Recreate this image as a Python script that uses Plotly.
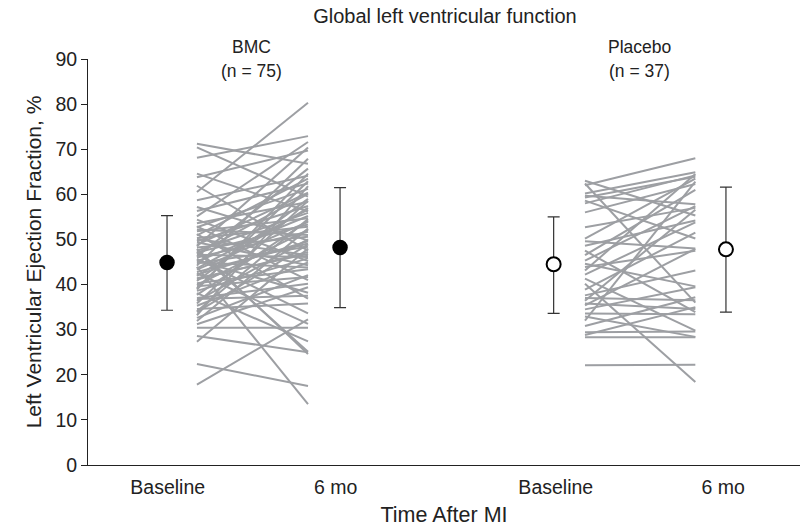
import plotly.graph_objects as go

# ---------------- data ----------------
tick_labels = ["Baseline", "6 mo", "Baseline", "6 mo"]
tick_pos = [1.12, 3.48, 6.57, 8.92]

# x positions (axis units)
bmc_x = [1.53, 3.09]
pla_x = [6.98, 8.53]
mean_x_bmc = [1.11, 3.54]
mean_x_pla = [6.54, 8.96]

bmc_baseline = [71.2, 70.4, 68.1, 64.6, 63.8, 61.9, 60.5, 58.7, 57.2, 56.3, 55.1, 54.4,
                53.6, 52.9, 52.7, 51.8, 51.2, 50.9, 50.3, 49.6, 49.4, 48.8, 48.2, 47.9,
                47.5, 47.1, 46.6, 46.2, 46.0, 45.4, 45.1, 44.7, 44.2, 43.9, 43.3, 42.8,
                42.5, 41.9, 41.4, 40.8, 40.3, 39.9, 39.2, 38.6, 38.1, 37.7, 37.0, 36.4,
                35.8, 35.3, 34.6, 33.9, 33.2, 32.6, 31.9, 31.2, 48.5, 45.7, 43.6, 41.1,
                38.9, 36.8, 34.1, 44.9, 46.8, 50.1, 52.2, 47.3, 42.2, 39.6, 30.4, 28.6,
                27.3, 22.4, 17.8]
bmc_6mo = [66.8, 59.5, 72.9, 56.2, 69.7, 47.5, 80.3, 64.1, 49.8, 62.4, 71.6, 45.2,
           58.3, 41.0, 61.2, 54.7, 36.9, 63.5, 52.8, 57.4, 44.3, 60.4, 50.6, 24.6,
           55.9, 53.3, 46.1, 65.7, 51.7, 38.2, 55.2, 48.4, 67.9, 13.5, 53.9, 49.1,
           31.3, 57.0, 46.8, 59.0, 43.4, 52.1, 62.9, 45.8, 27.4, 54.1, 40.2, 50.0,
           58.6, 44.9, 35.8, 48.9, 61.8, 42.1, 52.4, 39.4, 70.4, 33.6, 56.6, 47.2,
           64.6, 37.5, 54.5, 43.8, 60.1, 46.5, 51.0, 25.1, 49.6, 41.7, 30.4, 25.0,
           48.0, 17.5, 32.3]

pla_baseline = [63.0, 62.4, 60.2, 59.7, 59.3, 58.6, 58.0, 62.0, 56.0, 52.7,
                50.2, 49.6, 48.6, 47.5, 45.3, 44.6, 43.9, 43.1, 42.2, 41.3,
                40.2, 38.9, 37.6, 37.0, 36.4, 35.8, 35.4, 34.5, 33.6, 32.9,
                32.0, 30.8, 29.4, 28.8, 28.3, 22.1, 46.5]
pla_6mo = [55.3, 36.0, 64.9, 57.8, 63.9, 50.2, 64.2, 68.0, 62.3, 57.0,
           63.5, 48.0, 54.2, 33.9, 57.4, 39.6, 47.5, 64.5, 53.8, 29.8,
           18.4, 51.5, 43.1, 36.5, 56.6, 34.6, 47.9, 39.4, 33.4, 28.4,
           62.8, 37.2, 29.6, 35.0, 28.3, 22.2, 61.0]

bmc_mean = [44.9, 48.2]
bmc_err_plus = [10.4, 13.3]
bmc_err_minus = [10.6, 13.3]
pla_mean = [44.5, 47.8]
pla_err_plus = [10.5, 13.8]
pla_err_minus = [10.9, 13.9]

group_labels = ["BMC", "Placebo"]
group_n = ["(n = 75)", "(n = 37)"]
group_label_x = [2.30, 7.75]

# ---------------- figure ----------------
line_color = "rgb(157,159,163)"
ink = "#222222"
font_family = "Liberation Sans, Arial, sans-serif"


def spaghetti(xs, a, b):
    X, Y = [], []
    for v0, v1 in zip(a, b):
        X += [xs[0], xs[1], None]
        Y += [v0, v1, None]
    return X, Y


fig = go.Figure()
for xs, a, b in [(bmc_x, bmc_baseline, bmc_6mo), (pla_x, pla_baseline, pla_6mo)]:
    X, Y = spaghetti(xs, a, b)
    fig.add_trace(go.Scatter(x=X, y=Y, mode="lines",
                             line=dict(color=line_color, width=2),
                             hoverinfo="skip", showlegend=False))

fig.add_trace(go.Scatter(
    x=mean_x_bmc, y=bmc_mean, mode="markers",
    marker=dict(size=14, color="black", line=dict(color="black", width=1.5)),
    error_y=dict(type="data", array=bmc_err_plus, arrayminus=bmc_err_minus,
                 color="#333333", thickness=1.2, width=6),
    showlegend=False))
fig.add_trace(go.Scatter(
    x=mean_x_pla, y=pla_mean, mode="markers",
    marker=dict(size=14, color="white", line=dict(color="black", width=2)),
    error_y=dict(type="data", array=pla_err_plus, arrayminus=pla_err_minus,
                 color="#333333", thickness=1.2, width=6),
    showlegend=False))

for gx, gl, gn in zip(group_label_x, group_labels, group_n):
    fig.add_annotation(x=gx, y=1.0296, xref="x", yref="paper", text=gl, showarrow=False,
                       font=dict(size=17.5, color=ink, family=font_family), yanchor="middle")
    fig.add_annotation(x=gx, y=0.9704, xref="x", yref="paper", text=gn, showarrow=False,
                       font=dict(size=17.5, color=ink, family=font_family), yanchor="middle")

fig.update_layout(
    width=806, height=527,
    margin=dict(l=88, r=6, t=59, b=62),
    plot_bgcolor="white", paper_bgcolor="white",
    font=dict(family=font_family, color=ink, size=19.5),
    title=dict(text="Global left ventricular function", x=0.552, xanchor="center",
               y=1 - 16 / 527, yanchor="middle", yref="container",
               font=dict(size=20, color=ink, family=font_family)),
    xaxis=dict(range=[0, 10], showline=True, linecolor=ink, linewidth=1,
               showgrid=False, zeroline=False, ticks="",
               tickvals=tick_pos, ticktext=tick_labels,
               tickfont=dict(size=19.5), ticklabelstandoff=5,
               title=dict(text="Time After MI", font=dict(size=21.5), standoff=9)),
    yaxis=dict(range=[0, 90], dtick=10, showline=True, linecolor=ink, linewidth=1,
               showgrid=False, zeroline=False, ticks="outside", ticklen=6,
               tickcolor=ink, tickfont=dict(size=19.5),
               title=dict(text="Left Ventricular Ejection Fraction, %",
                          font=dict(size=21), standoff=8)),
)

fig.write_html("out.html")
